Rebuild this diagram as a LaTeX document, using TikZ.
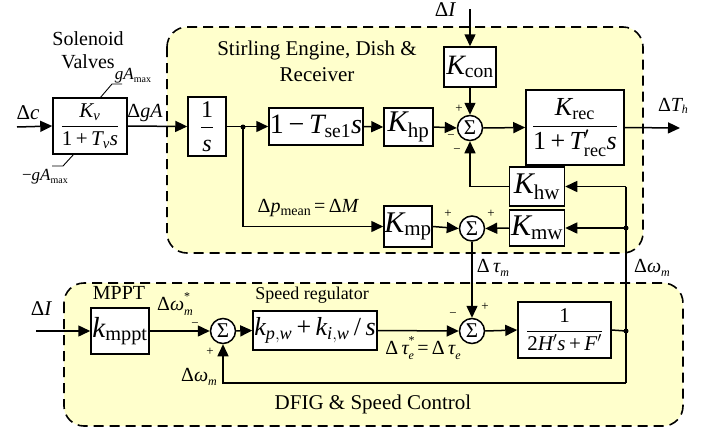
\documentclass[tikz,border=0pt]{standalone}
\usepackage{amsmath}
\usepackage{fontspec}
\setmainfont{Liberation Serif}
\usetikzlibrary{arrows.meta}
\newcommand\mi[1]{\text{\itshape #1}}
\newcommand\tx[1]{\text{#1}}
\newcommand\fs[1]{\fontsize{#1}{#1}\selectfont}
\definecolor{zone}{RGB}{255,255,204}
\tikzset{
  blk/.style={draw, line width=1.5pt, fill=white, inner sep=0pt, anchor=center},
  sumn/.style={draw, circle, line width=1.5pt, fill=white, inner sep=0pt, minimum size=25pt, font=\fs{21}},
  zonebox/.style={draw, line width=1.6pt, dash pattern=on 10pt off 6pt, fill=zone, rounded corners=20pt},
  conn/.style={line width=1.5pt},
  arr/.style={line width=1.5pt, -{Triangle[length=12pt,width=11pt]}},
  lbl/.style={inner sep=0pt, font=\fs{20}},
  sgn/.style={inner sep=0pt, font=\fs{13}},
  dot/.style={circle, fill=black, inner sep=0pt, minimum size=5pt},
}
\begin{document}
\begin{tikzpicture}[x=1pt,y=-1pt]
\useasboundingbox (0,0) rectangle (715,432);
% zones
\draw[zonebox] (167,27) rectangle (643,253);
\draw[zonebox] (64,283) rectangle (683,426);
% titles
\node[lbl, align=center, font=\fs{20}\linespread{1.2}\selectfont] (tsol) at (88,50) {Solenoid\\[-1pt]Valves};
\node[lbl, align=center, font=\fs{21}\linespread{1.25}\selectfont] (tste) at (317,61) {Stirling Engine, Dish \&\\Receiver};
\node[lbl] (tmppt) at (119,293) {MPPT};
\node[lbl, font=\fs{18}] (tspd) at (312,295) {Speed regulator};
\node[lbl, font=\fs{21}] (tdfig) at (373,404) {DFIG \& Speed Control};
% blocks
\node[blk, minimum width=74pt, minimum height=56pt, font=\fs{21}] (sv) at (90,126) {$\dfrac{\mi{K}_{\mi{v}}}{\tx{1\,+\,}\mi{T}_{\mi{v}}\mi{s}}$};
\node[blk, minimum width=38pt, minimum height=59pt, font=\fs{24}] (integ) at (207,126.5) {$\dfrac{\tx{1}}{\mi{s}}$};
\node[blk, minimum width=94pt, minimum height=37pt, font=\fs{28}] (tse) at (316,126.5) {$\tx{1\,−\,}\mi{T}_{\tx{se1}}\mi{s}$};
\node[blk, minimum width=49pt, minimum height=38pt, font=\fs{30}] (khp) at (408.5,127) {$\mi{K}_{\tx{hp}}$};
\node[blk, minimum width=52pt, minimum height=40pt, font=\fs{28}] (kcon) at (470,67) {$\mi{K}_{\tx{con}}$};
\node[blk, minimum width=98pt, minimum height=75pt, font=\fs{26}] (krec) at (575,127.5) {$\dfrac{\mi{K}_{\tx{rec}}}{\tx{1\,+\,}\mi{T}'_{\tx{rec}}\mi{s}}$};
\node[blk, minimum width=55pt, minimum height=39pt, font=\fs{30}] (khw) at (537,186.5) {$\mi{K}_{\tx{hw}}$};
\node[blk, minimum width=55pt, minimum height=36pt, font=\fs{30}] (kmw) at (537,228) {$\mi{K}_{\tx{mw}}$};
\node[blk, minimum width=48pt, minimum height=41pt, font=\fs{30}] (kmp) at (408,226.5) {$\mi{K}_{\tx{mp}}$};
\node[blk, minimum width=58pt, minimum height=46pt, font=\fs{29}] (kmppt) at (120,331) {$\mi{k}_{\tx{mppt}}$};
\node[blk, minimum width=124pt, minimum height=39pt, font=\fs{26}] (kpw) at (315,330.5) {$\mi{k}_{\mi{p},\mi{w}}\tx{\,+\,}\mi{k}_{\mi{i},\mi{w}}\tx{\,/\,}\mi{s}$};
\node[blk, minimum width=93pt, minimum height=56pt, font=\fs{21}] (swing) at (564.5,330) {$\dfrac{\tx{1}}{\tx{2}\mi{H}'\mi{s}\tx{\,+\,}\mi{F}'}$};
% sums
\node[sumn] (s1) at (470,128) {Σ};
\node[sumn] (s2) at (472,228.5) {Σ};
\node[sumn] (s3) at (223,331) {Σ};
\node[sumn] (s4) at (472,331) {Σ};
% coordinates
\coordinate (inc) at (17,127);
\coordinate (inI) at (470,9);
\coordinate (outT) at (680,128);
\coordinate (inI2) at (36,331);
\coordinate (j1) at (243,127);
\coordinate (j2) at (626,228);
\coordinate (j3) at (626,331);
\coordinate (fbtop) at (626,186.5);
\coordinate (fbbot) at (626,383);
% saturation marks
\coordinate (satA) at (100,98);
\coordinate (satB) at (112,84);
\coordinate (satC) at (122,84);
\coordinate (satD) at (74,154);
\coordinate (satE) at (63,166);
\coordinate (satF) at (52,166);
\draw[line width=0.9pt] (satA) -- (satB) -- (satC);
\draw[line width=0.9pt] (satD) -- (satE) -- (satF);
\node[lbl, font=\fs{17}] (lgmax) at (133,76) {\mi{gA}\raisebox{-0.3ex}{\fs{10}max}};
\node[lbl, font=\fs{17}] (lgmin) at (45,177) {−\mi{gA}\raisebox{-0.3ex}{\fs{10}max}};
% connectors top
\draw[arr] (inc) -- (sv.west);
\draw[arr] (sv.east) -- (integ.west);
\draw[arr] (integ.east) -- (tse.west);
\draw[arr] (tse.east) -- (khp.west);
\draw[arr] (khp.east) -- (s1.west);
\draw[arr] (inI) -- (kcon.north);
\draw[arr] (kcon.south) -- (s1.north);
\draw[arr] (s1.east) -- (krec.west);
\draw[arr] (krec.east) -- (outT);
\draw[arr] (j1) |- (kmp.west);
\draw[arr] (kmp.east) -- (s2.west);
\draw[arr] (kmw.west) -- (s2.east);
\draw[arr] (j2) -- (kmw.east);
\draw[arr] (fbtop) -- (khw.east);
\draw[arr] (khw.west) -| (s1.south);
\draw[conn] (fbtop) -- (fbbot);
\draw[arr] (fbbot) -| (s3.south);
\draw[conn] (swing.east) -- (j3);
\draw[arr] (s2.south) -- (s4.north);
\node[dot] at (j1) {};
\node[dot] at (j2) {};
\node[dot] at (j3) {};
% connectors bottom
\draw[arr] (inI2) -- (kmppt.west);
\draw[arr] (kmppt.east) -- (s3.west);
\draw[arr] (s3.east) -- (kpw.west);
\draw[arr] (kpw.east) -- (s4.west);
\draw[arr] (s4.east) -- (swing.west);
% signal labels
\node[lbl, font=\fs{21}] (lc) at (28,113) {Δ\mi{c}};
\node[lbl] (lga) at (145,113) {Δ\mi{gA}};
\node[lbl, font=\fs{21}] (lI) at (445,10) {Δ\mi{I}};
\node[lbl] (lTh) at (673,106) {Δ\mi{T}\raisebox{-0.3ex}{\fs{12}\itshape h}};
\node[lbl] (lpm) at (308,208) {Δ\mi{p}\raisebox{-0.3ex}{\fs{14}mean}\,=\,Δ\mi{M}};
\node[lbl] (ltm) at (493,268) {Δ\,\mi{τ}\raisebox{-0.5ex}{\fs{12}\itshape m}};
\node[lbl] (lwm) at (652,268) {Δ\mi{ω}\raisebox{-0.5ex}{\fs{12}\itshape m}};
\node[lbl, font=\fs{21}] (lI2) at (41,309) {Δ\mi{I}};
\node[lbl] (lws) at (175,304) {Δ\mi{ω}\rlap{\raisebox{1.1ex}{\fs{12}*}}\raisebox{-0.5ex}{\fs{12}\itshape m}};
\node[lbl] (lwm2) at (199,377) {Δ\mi{ω}\raisebox{-0.5ex}{\fs{12}\itshape m}};
\node[lbl] (lte) at (423,348) {Δ\,\mi{τ}\rlap{\raisebox{1.1ex}{\fs{12}*}}\raisebox{-0.5ex}{\fs{12}\itshape e}\,=\,Δ\,\mi{τ}\raisebox{-0.5ex}{\fs{12}\itshape e}};
% signs
\node[sgn] at (459,109) {+};
\node[sgn] at (451,137) {−};
\node[sgn] at (457,151) {−};
\node[sgn] at (448,214) {+};
\node[sgn] at (491,214) {+};
\node[sgn] at (195,325) {−};
\node[sgn] at (210,352) {+};
\node[sgn] at (485,307) {+};
\node[sgn] at (453,315) {−};
\end{tikzpicture}
\end{document}
